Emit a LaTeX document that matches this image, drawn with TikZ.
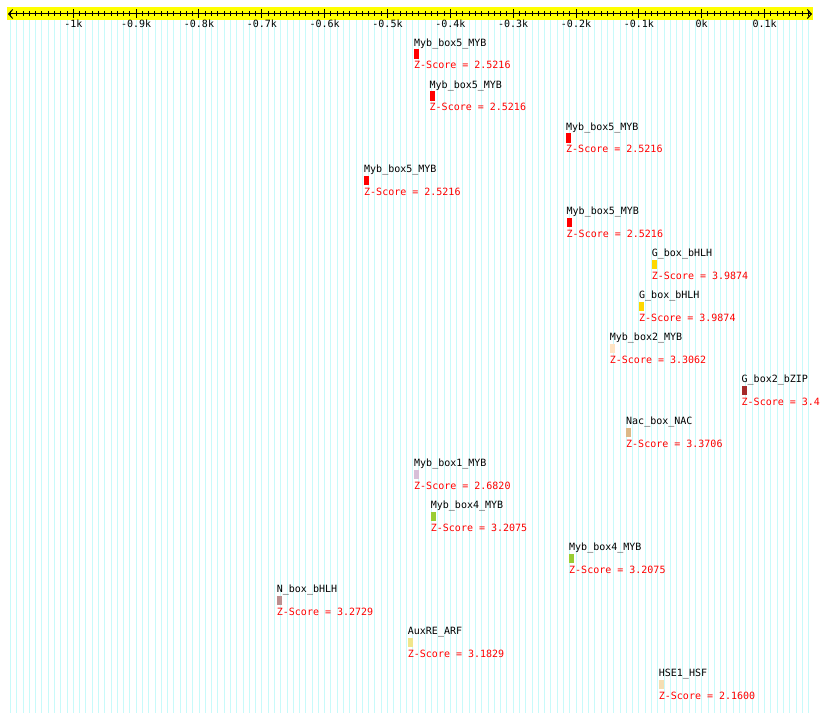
\documentclass[tikz,border=0pt]{standalone}
\usepackage{fontspec}
\newfontfamily\monof{DejaVu Sans Mono}
\usetikzlibrary{arrows.meta}
\definecolor{gridcyan}{RGB}{200,250,250}
\definecolor{rulery}{RGB}{255,255,0}
\definecolor{zred}{RGB}{255,0,0}
\definecolor{cred}{RGB}{255,0,0}
\definecolor{cgold}{RGB}{255,215,0}
\definecolor{cbisque}{RGB}{255,228,196}
\definecolor{cbrown}{RGB}{165,42,42}
\definecolor{cburly}{RGB}{222,184,135}
\definecolor{cthistle}{RGB}{216,191,216}
\definecolor{cyg}{RGB}{154,205,50}
\definecolor{crosy}{RGB}{188,143,143}
\definecolor{ckhaki}{RGB}{240,230,140}
\definecolor{cwheat}{RGB}{245,222,179}
\tikzset{
  lbl/.style={inner sep=0pt, anchor=base west, text=black},
  zs/.style={inner sep=0pt, anchor=base west, text=zred},
  ticklbl/.style={inner sep=0pt, anchor=base, text=black},
  gridln/.style={draw=gridcyan, line width=0.9bp},
  axisln/.style={draw=black, line width=1bp},
}
\begin{document}
\begin{tikzpicture}[x=1bp,y=-1bp,font=\monof\fontsize{10bp}{12bp}\selectfont]
\fill[white] (0,0) rectangle (820,713);
\useasboundingbox (0,0) rectangle (820,713);
% grid lines
\foreach \v in {-1100,-1090,...,170}{
  \pgfmathsetmacro\xx{701.7+0.6284*\v}
  \draw[gridln] (\xx,20) -- (\xx,713);
}
% ruler band
\fill[rulery] (7,7) rectangle (813,20.5);
\coordinate (axl) at (8,14);
\coordinate (axr) at (812,14);
\draw[axisln,{Straight Barb[length=4bp,width=9bp]}-{Straight Barb[length=4bp,width=9bp]}] (axl) -- (axr);
\foreach \v in {-1100,-1090,...,170}{
  \pgfmathsetmacro\xx{701.7+0.6284*\v}
  \draw[axisln] (\xx,11.5) -- (\xx,16.5);
}
\foreach \v/\t [count=\k] in {-1000/-1k,-900/-0.9k,-800/-0.8k,-700/-0.7k,-600/-0.6k,-500/-0.5k,-400/-0.4k,-300/-0.3k,-200/-0.2k,-100/-0.1k,0/0k,100/0.1k}{
  \pgfmathsetmacro\xx{701.7+0.6284*\v}
  \draw[axisln] (\xx,9.5) -- (\xx,18.5);
  \node[ticklbl] (t\k) at (\xx,27.5) {\t};
}
% sites
\foreach \i/\x/\name/\col/\z in {
  1/414/Myb\_box5\_MYB/cred/2.5216,
  2/429.5/Myb\_box5\_MYB/cred/2.5216,
  3/566/Myb\_box5\_MYB/cred/2.5216,
  4/364/Myb\_box5\_MYB/cred/2.5216,
  5/566.5/Myb\_box5\_MYB/cred/2.5216,
  6/651.7/G\_box\_bHLH/cgold/3.9874,
  7/639/G\_box\_bHLH/cgold/3.9874,
  8/609.7/Myb\_box2\_MYB/cbisque/3.3062,
  9/741.5/G\_box2\_bZIP/cbrown/3.4,
  10/626/Nac\_box\_NAC/cburly/3.3706,
  11/414/Myb\_box1\_MYB/cthistle/2.6820,
  12/430.7/Myb\_box4\_MYB/cyg/3.2075,
  13/569/Myb\_box4\_MYB/cyg/3.2075,
  14/276.7/N\_box\_bHLH/crosy/3.2729,
  15/407.7/AuxRE\_ARF/ckhaki/3.1829,
  16/658.7/HSE1\_HSF/cwheat/2.1600}{
  \pgfmathsetmacro\yb{46.5+42*(\i-1)}
  \node[lbl] (n\i) at (\x,\yb) {\name};
  \fill[\col] (\x,\yb+3) rectangle ++(5,9.5);
  \node[zs] (z\i) at (\x,\yb+22.5) {Z-Score = \z};
}
\end{tikzpicture}
\end{document}
